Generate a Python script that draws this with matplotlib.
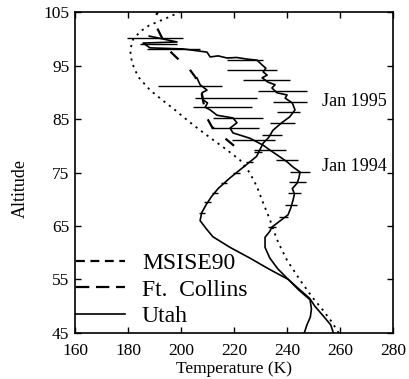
import numpy as np
import matplotlib
matplotlib.use("Agg")
import matplotlib.pyplot as plt
from matplotlib.lines import Line2D

plt.rcParams["font.family"] = ["Liberation Serif", "DejaVu Serif"]

# MSISE90 model
msis_alt = [45, 47, 49.3, 51.7, 54.9, 58.6, 61.8, 63, 66.1, 69.3, 72.3, 74.9, 77.3,
            79.2, 81.1, 82.9, 84.8, 86.7, 88.6, 90.4, 92.9, 95.5, 97.9, 100, 101.5,
            102.5, 103.9, 105]
msis_temp = [259.5, 257, 253.5, 249.5, 244.9, 240, 236.8, 235.8, 233.6, 231, 228.7,
             226, 222.3, 217.4, 212.1, 207.2, 202.3, 197.7, 192.8, 188.3, 183.8,
             181.5, 180.8, 182, 185, 188, 194.7, 199.6]

# Ft. Collins
ftc_alt = [80, 81.4, 82.4, 83.5, 85.2, 88, 90.5, 91.7, 92.9, 94.7, 95.5, 97.3,
           98.3, 101, 103.5, 105]
ftc_temp = [220, 216.6, 214.7, 211.7, 209.8, 208.5, 207.5, 206.4, 205.3, 202.6,
            200.4, 196.6, 194.7, 192, 189.5, 191.3]

# Utah, Jan 1995
jan95_alt = [45, 46.5, 48, 50, 51.5, 53, 55, 57, 59, 61, 63, 64.5, 66, 67.5, 69,
             70.5, 72, 74, 76, 78, 79.5, 80.5, 81.5, 82.9, 84.3, 85.4, 86.7, 88,
             88.9, 89.5, 89.9, 90.8, 91.4, 91.9, 92.7, 93.2, 93.8, 94.5, 95.1, 96,
             96.2, 96.5, 96.4, 96.8, 96.6, 97.5, 98.1, 98.3, 99.2, 99.4, 99.8, 100.5]
jan95_temp = [257.5, 256.5, 254, 250.5, 248.5, 245, 240.5, 233, 226, 218.5, 212,
              209.5, 207.2, 207.8, 209.5, 211.5, 214, 218.5, 223.5, 228.5, 230, 231,
              233, 234.7, 238, 241, 243, 242, 239.3, 240, 236.2, 234.3, 235.5, 232.8,
              230.6, 232.5, 231, 232, 230.6, 228.7, 224.9, 221, 217.4, 214, 211,
              209.8, 200.8, 188.3, 185.7, 198.5, 194.7, 188]

# Utah, Jan 1994
jan94_alt = [45, 46.5, 48, 49.5, 51.2, 53, 55, 57, 59, 61, 62.9, 64, 64.8, 66,
             67.1, 68.5, 69.9, 71, 72, 73, 74, 75.1, 76, 77, 78.3, 79.2, 80.1, 81.4,
             82.4, 83.3, 84.3, 85.2, 85.7, 86.7, 87.2, 88, 88.6, 89.9, 90.4, 91.4,
             92.7]
jan94_temp = [246.5, 247.5, 248.8, 249.2, 248.7, 244.5, 240.5, 236.5, 233.5, 231.7,
              231.7, 233.5, 234.3, 237.5, 240.4, 241.5, 242.3, 242.8, 242, 243.8,
              244.5, 244.9, 242.3, 240, 236.2, 233.5, 231, 226, 219.6, 218.5, 221.1,
              219.6, 213.6, 211, 209.1, 210, 208.3, 207.9, 209.8, 207.2, 206]

# error bars (altitude, centre, half width)
bar95_alt = [67.5, 69.5, 71.2, 73, 75, 77, 78.8, 82.0, 84.3, 86.3, 88.2, 90.2, 92.3,
             94.2, 96.0, 98.0, 99.1, 100.1]
bar95_temp = [207.8, 210, 212.8, 216.2, 221, 226, 229.2, 234.4, 238.3, 240.5, 241.1,
              238.3, 232.3, 226.8, 224.2, 197.2, 191.5, 190.2]
bar95_err = [1.2, 1.2, 1.2, 1.2, 1.3, 1.3, 1.5, 3.8, 4.7, 4.3, 6.4, 9.3, 8.9, 9.4,
             6.8, 10, 7, 10.6]

bar94_alt = [64.8, 66.6, 68.9, 71.2, 73.2, 75.1, 77.3, 79.2, 81.1, 83.3, 85.1, 87.2,
             88.9, 91.2]
bar94_temp = [234.3, 238.5, 241.5, 242.8, 243.8, 244.9, 240, 233.5, 227.4, 220.4,
              221.6, 215.6, 217, 203.4]
bar94_err = [1.5, 1.7, 2.2, 2.5, 3.2, 3.8, 4.3, 6, 8, 9, 9.4, 11.1, 11.7, 12]

xticks = [160, 180, 200, 220, 240, 260, 280]
yticks = [45, 55, 65, 75, 85, 95, 105]

fig = plt.figure(figsize=(4.09, 3.79), dpi=100)
ax = fig.add_axes([0.1834, 0.1214, 0.7776, 0.8469])

ax.plot(msis_temp, msis_alt, color="k", lw=1.3, linestyle=(0, (1.2, 2.6)))
ax.plot(ftc_temp, ftc_alt, color="k", lw=1.6, linestyle=(0, (5, 7)))
ax.plot(jan95_temp, jan95_alt, color="k", lw=1.2)
ax.plot(jan94_temp, jan94_alt, color="k", lw=1.2)
ax.errorbar(bar95_temp, bar95_alt, xerr=bar95_err, fmt="none", ecolor="k",
            elinewidth=1.0, capsize=0)
ax.errorbar(bar94_temp, bar94_alt, xerr=bar94_err, fmt="none", ecolor="k",
            elinewidth=1.0, capsize=0)

ax.text(253.2, 88.2, "Jan 1995", fontsize=13, va="center", ha="left")
ax.text(253.2, 76.1, "Jan 1994", fontsize=13, va="center", ha="left")

handles = [
    Line2D([], [], color="k", lw=1.6, linestyle=(0, (4, 2.5))),
    Line2D([], [], color="k", lw=1.6, linestyle=(0, (6, 3))),
    Line2D([], [], color="k", lw=1.2),
]
ax.legend(handles, ["MSISE90", "Ft.  Collins", "Utah"], loc="lower left",
          bbox_to_anchor=(-0.005, 0.012), frameon=False, fontsize=17,
          handlelength=2.1, handletextpad=0.7, labelspacing=0.2,
          borderpad=0.1, borderaxespad=0.0)

ax.set_xlim(160, 280)
ax.set_ylim(45, 105)
ax.set_xticks(xticks)
ax.set_yticks(yticks)
ax.tick_params(direction="in", length=4, width=1, top=True, right=True,
               labelsize=12.5)
ax.tick_params(axis="x", pad=7)
ax.tick_params(axis="y", pad=4)
for s in ax.spines.values():
    s.set_linewidth(1.2)
ax.set_xlabel("Temperature (K)", fontsize=12.5, labelpad=2)
ax.set_ylabel("Altitude", fontsize=13)
ax.yaxis.set_label_coords(-0.145, 0.45)

fig.savefig("out.png", dpi=100)
